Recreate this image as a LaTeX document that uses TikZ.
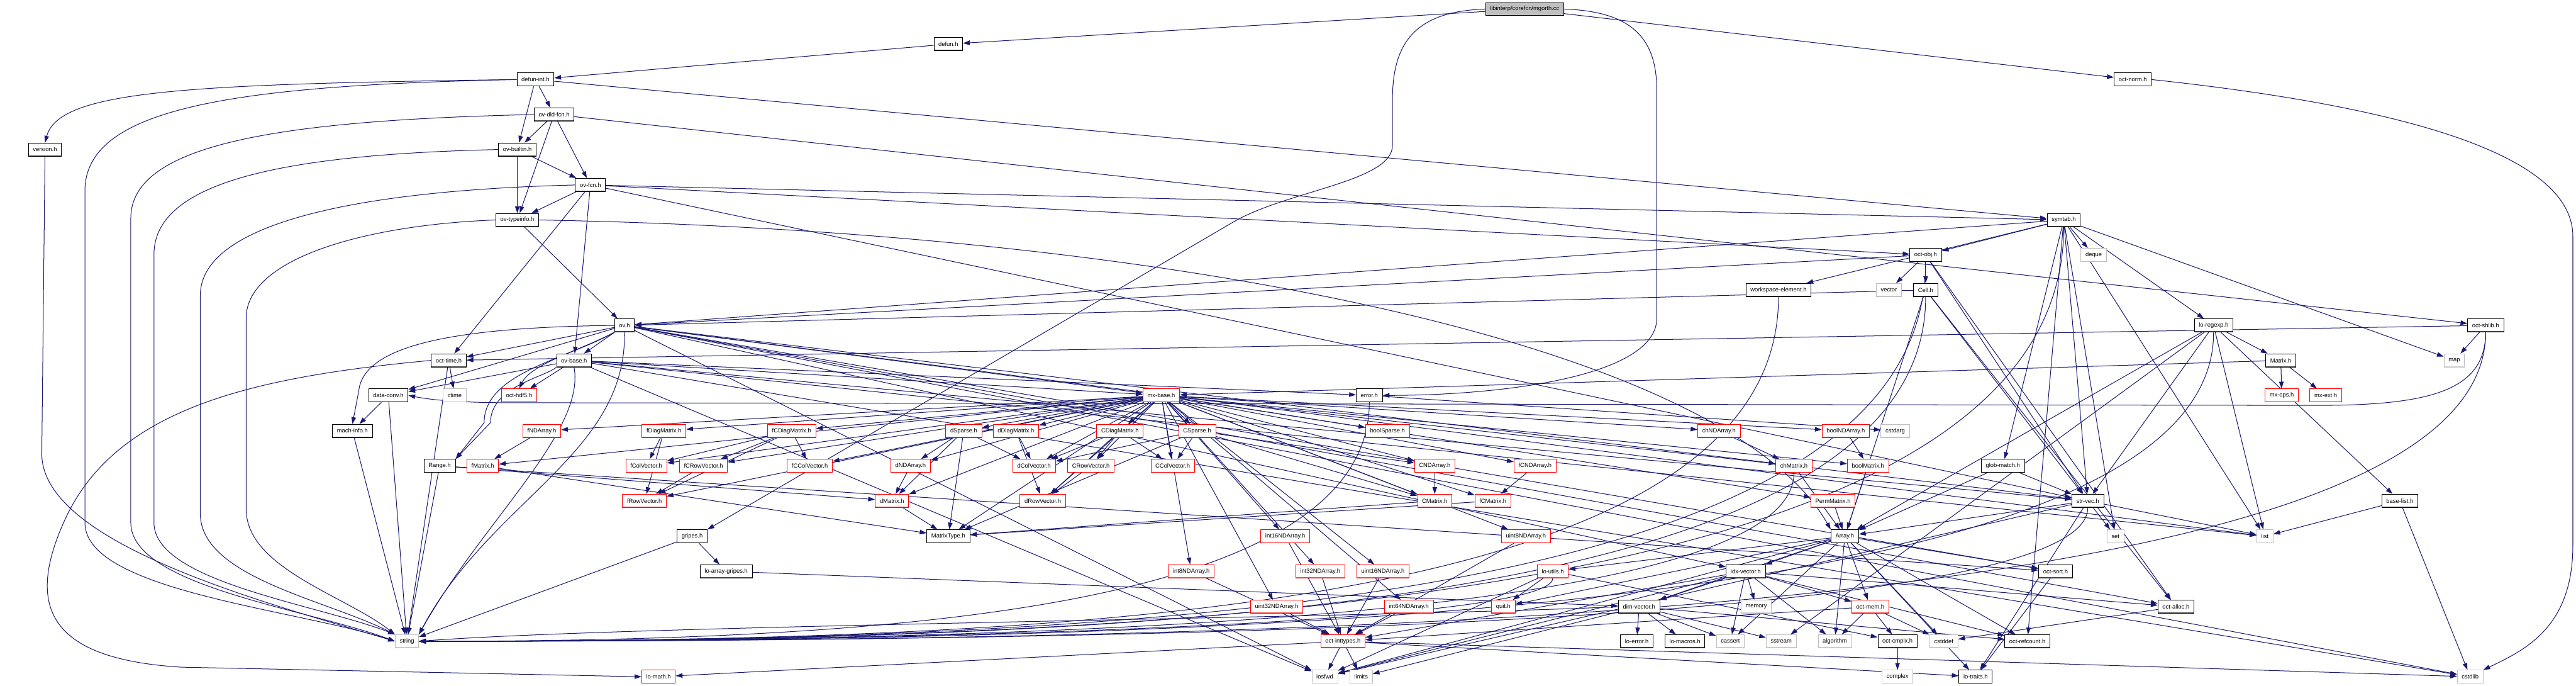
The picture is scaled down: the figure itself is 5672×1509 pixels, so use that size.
\documentclass[tikz,border=0pt]{standalone}
\usepackage{fontspec}
\setsansfont{Liberation Sans}
\usepackage{tikz}
\usetikzlibrary{arrows.meta}
\definecolor{depblue}{RGB}{25,25,112}
\definecolor{sysgray}{RGB}{191,191,191}
\definecolor{rootgray}{RGB}{191,191,191}
\pgfdeclarelayer{background}
\pgfdeclarelayer{edges}
\pgfsetlayers{background,edges,main}
\tikzset{
  hdr/.style={draw=#1, line width=1.2pt, fill=white, minimum height=29pt,
    inner xsep=10pt, inner ysep=0pt, font=\sffamily\fontsize{13}{15}\selectfont,
    path picture={\draw[#1!70!white, line width=3pt]
      (path picture bounding box.south west) -- (path picture bounding box.south east);}},
  filebox/.style={hdr=black},
  truncbox/.style={hdr=red},
  sysbox/.style={hdr=sysgray},
  dep/.style={draw=depblue, line width=1.4pt, -{Triangle[length=15pt,width=10pt]}},
}

\begin{document}
\begin{tikzpicture}[x=1pt, y=-1pt]
    \useasboundingbox (0,0) rectangle (5672,1509);
    \begin{pgfonlayer}{background}
        \fill[white] (0,0) rectangle (5672,1509);
    \end{pgfonlayer}

    \node[filebox, fill=rootgray] (mgorth) at (3357,20) {libinterp/corefcn/mgorth.cc};
    \node[filebox] (defun) at (2088,97) {defun.h};
    \node[filebox] (defunint) at (1179,175) {defun-int.h};
    \node[filebox] (octnorm) at (4696,175) {oct-norm.h};
    \node[filebox] (ovdldfcn) at (1220,252) {ov-dld-fcn.h};
    \node[filebox] (version) at (99,329) {version.h};
    \node[filebox] (ovbuiltin) at (1139,329) {ov-builtin.h};
    \node[filebox] (ovfcn) at (1300,407) {ov-fcn.h};
    \node[filebox] (ovtypeinfo) at (1139,484) {ov-typeinfo.h};
    \node[filebox] (symtab) at (4544,484) {symtab.h};
    \node[filebox] (octobj) at (4240,561) {oct-obj.h};
    \node[sysbox] (stddeque) at (4610,561) {deque};
    \node[filebox] (wselem) at (3916,638) {workspace-element.h};
    \node[sysbox] (stdvector) at (4159,638) {vector};
    \node[filebox] (cell) at (4240,638) {Cell.h};
    \node[filebox] (ov) at (1375,716) {ov.h};
    \node[filebox] (loregexp) at (4874,716) {lo-regexp.h};
    \node[filebox] (octshlib) at (5473,716) {oct-shlib.h};
    \node[filebox] (octtime) at (988,793) {oct-time.h};
    \node[filebox] (ovbase) at (1264,793) {ov-base.h};
    \node[filebox] (matrix) at (5022,793) {Matrix.h};
    \node[sysbox] (stdmap) at (5404,793) {map};
    \node[filebox] (datacnv) at (855,870) {data-conv.h};
    \node[sysbox] (stdctime) at (1001,870) {ctime};
    \node[truncbox] (octhdf) at (1143,870) {oct-hdf5.h};
    \node[truncbox] (mxbase) at (2557,870) {mx-base.h};
    \node[filebox] (error) at (3015,870) {error.h};
    \node[truncbox] (mxops) at (5024,870) {mx-ops.h};
    \node[truncbox] (mxext) at (5121,870) {mx-ext.h};

    \node[filebox] (machinfo) at (776,948) {mach-info.h};
    \node[truncbox] (fNDArray) at (1193,948) {fNDArray.h};
    \node[truncbox] (fDiag) at (1462,948) {fDiagMatrix.h};
    \node[truncbox] (fCDiag) at (1743,948) {fCDiagMatrix.h};
    \node[truncbox] (dSparse) at (2122,948) {dSparse.h};
    \node[truncbox] (dDiag) at (2237,948) {dDiagMatrix.h};
    \node[truncbox] (CDiag) at (2466,948) {CDiagMatrix.h};
    \node[truncbox] (CSparse) at (2636,948) {CSparse.h};
    \node[truncbox] (boolSparse) at (3055,948) {boolSparse.h};
    \node[truncbox] (chNDArray) at (3785,948) {chNDArray.h};
    \node[truncbox] (boolNDArray) at (4064,948) {boolNDArray.h};
    \node[sysbox] (stdcstdarg) at (4173,948) {cstdarg};

    \node[filebox] (range) at (968,1025) {Range.h};
    \node[truncbox] (fMatrix) at (1063,1025) {fMatrix.h};
    \node[truncbox] (fColVec) at (1423,1025) {fColVector.h};
    \node[truncbox] (fCRowVec) at (1549,1025) {fCRowVector.h};
    \node[truncbox] (fCColVec) at (1783,1025) {fCColVector.h};
    \node[truncbox] (dNDArray) at (2005,1025) {dNDArray.h};
    \node[truncbox] (dColVec) at (2277,1025) {dColVector.h};
    \node[truncbox] (CRowVec) at (2402,1025) {CRowVector.h};
    \node[truncbox] (CColVec) at (2582,1025) {CColVector.h};
    \node[truncbox] (CNDArray) at (3159,1025) {CNDArray.h};
    \node[truncbox] (fCNDArray) at (3380,1025) {fCNDArray.h};
    \node[truncbox] (chMatrix) at (3950,1025) {chMatrix.h};
    \node[truncbox] (boolMatrix) at (4113,1025) {boolMatrix.h};
    \node[filebox] (globmatch) at (4410,1025) {glob-match.h};

    \node[truncbox] (fRowVec) at (1419,1102) {fRowVector.h};
    \node[truncbox] (dMatrix) at (1964,1102) {dMatrix.h};
    \node[truncbox] (dRowVec) at (2296,1102) {dRowVector.h};
    \node[truncbox] (CMatrix) at (3159,1102) {CMatrix.h};
    \node[truncbox] (fCMatrix) at (3287,1102) {fCMatrix.h};
    \node[truncbox] (PermMatrix) at (4036,1102) {PermMatrix.h};
    \node[filebox] (strvec) at (4597,1102) {str-vec.h};
    \node[filebox] (baselist) at (5284,1102) {base-list.h};

    \node[filebox] (gripes) at (1524,1180) {gripes.h};
    \node[filebox] (mtype) at (2088,1180) {MatrixType.h};
    \node[truncbox] (int16) at (2830,1180) {int16NDArray.h};
    \node[truncbox] (uint8) at (3360,1180) {uint8NDArray.h};
    \node[filebox] (array) at (4062,1180) {Array.h};
    \node[sysbox] (stdset) at (4658,1180) {set};
    \node[sysbox] (stdlist) at (4987,1180) {list};

    \node[filebox] (lagripes) at (1599,1257) {lo-array-gripes.h};
    \node[truncbox] (int8) at (2623,1257) {int8NDArray.h};
    \node[truncbox] (int32) at (2907,1257) {int32NDArray.h};
    \node[truncbox] (uint16) at (3045,1257) {uint16NDArray.h};
    \node[truncbox] (loutils) at (3419,1257) {lo-utils.h};
    \node[filebox] (idxvec) at (3844,1257) {idx-vector.h};
    \node[filebox] (octsort) at (4526,1257) {oct-sort.h};

    \node[truncbox] (uint32) at (2811,1335) {uint32NDArray.h};
    \node[truncbox] (int64) at (3102,1335) {int64NDArray.h};
    \node[truncbox] (quit) at (3310,1335) {quit.h};
    \node[filebox] (dimvec) at (3609,1335) {dim-vector.h};
    \node[sysbox] (stdmemory) at (3867,1335) {memory};
    \node[truncbox] (octmem) at (4118,1335) {oct-mem.h};
    \node[filebox] (octalloc) at (4791,1335) {oct-alloc.h};

    \node[sysbox] (stdstring) at (896,1411) {string};
    \node[truncbox] (octint) at (2957,1411) {oct-inttypes.h};
    \node[filebox] (loerror) at (3604,1411) {lo-error.h};
    \node[filebox] (lomacros) at (3710,1411) {lo-macros.h};
    \node[sysbox] (stdcassert) at (3810,1411) {cassert};
    \node[sysbox] (stdsstream) at (3922,1411) {sstream};
    \node[sysbox] (stdalgorithm) at (4040,1411) {algorithm};
    \node[filebox] (octcmplx) at (4178,1411) {oct-cmplx.h};
    \node[sysbox] (stdcstddef) at (4280,1411) {cstddef};
    \node[filebox] (octrefcount) at (4464,1411) {oct-refcount.h};

    \node[truncbox] (lomath) at (1450,1489) {lo-math.h};
    \node[sysbox] (stdiosfwd) at (2917,1489) {iosfwd};
    \node[sysbox] (stdlimits) at (2997,1489) {limits};
    \node[sysbox] (stdcomplex) at (4178,1489) {complex};
    \node[filebox] (lotraits) at (4350,1489) {lo-traits.h};
    \node[sysbox] (stdcstdlib) at (5439,1489) {cstdlib};

    \begin{pgfonlayer}{edges}
    \draw[dep] (mgorth) -- (defun);
    \draw[dep] (mgorth) -- (octnorm);
    \draw[dep] (mgorth.east) .. controls (3600,25) and (3648,90) .. (3648,200) -- (3648,700) .. controls (3648,830) and (3300,870) .. (error.east);
    \draw[dep] (mgorth.west) .. controls (3110,25) and (3066,100) .. (3066,220) -- (3066,320) .. controls (3066,400) and (2830,420) .. (2713,490) -- (gripes.north east);
    \draw[dep] (defun) -- (defunint);
    \foreach \tgt in {ovbuiltin,ovdldfcn,symtab} \draw[dep] (defunint) -- (\tgt);
    \draw[dep] (defunint.west) .. controls (400,185) and (130,200) .. (version.north);
    \draw[dep] (defunint.west) .. controls (500,188) and (187,240) .. (187,420) -- (187,1150) .. controls (187,1300) and (650,1340) .. (stdstring.west);
    \draw[dep] (version.south) -- (92,1000) .. controls (95,1200) and (600,1330) .. (stdstring.west);
    \draw[dep] (ovdldfcn.west) .. controls (600,265) and (288,320) .. (288,480) -- (288,1150) .. controls (288,1290) and (680,1340) .. (stdstring.west);
    \draw[dep] (ovbuiltin.west) .. controls (620,340) and (339,400) .. (339,560) -- (339,1150) .. controls (339,1280) and (700,1330) .. (stdstring.north west);
    \draw[dep] (ovfcn.west) .. controls (750,420) and (441,500) .. (441,650) -- (441,1130) .. controls (441,1270) and (720,1320) .. (stdstring.north west);
    \draw[dep] (ovtypeinfo.west) .. controls (800,495) and (542,570) .. (542,700) -- (542,1120) .. controls (542,1250) and (760,1310) .. (stdstring.north west);
    \foreach \tgt in {octshlib,ovbuiltin,ovfcn,ovtypeinfo} \draw[dep] (ovdldfcn) -- (\tgt);
    \foreach \tgt in {ovfcn,ovtypeinfo} \draw[dep] (ovbuiltin) -- (\tgt);
    \foreach \tgt in {octtime,ovbase,ovtypeinfo,octobj,strvec,symtab} \draw[dep] (ovfcn) -- (\tgt);
    \draw[dep] (ovtypeinfo) -- (ov);
    \draw[dep] (ovtypeinfo.east) .. controls (2600,510) and (3800,760) .. (array.north west);
    \draw[dep] (octnorm.east) .. controls (5250,230) and (5665,330) .. (5665,520) -- (5665,1200) .. controls (5665,1380) and (5560,1430) .. (stdcstdlib.north east);

    \foreach \tgt in {stddeque,loregexp,globmatch,octobj,wselem,ov,strvec,stdlist,stdmap,stdset,octrefcount} \draw[dep] (symtab) -- (\tgt);
    \foreach \tgt in {stdvector,cell,ov,strvec,octalloc} \draw[dep] (octobj) -- (\tgt);
    \foreach \tgt in {array,octalloc,strvec,ov} \draw[dep] (cell) -- (\tgt);
    \foreach \tgt in {datacnv,idxvec,mxbase,octalloc,octtime,strvec,octsort,ovbase,stdcstdlib,stdiosfwd,stdlist} \draw[dep] (ov) -- (\tgt);
    \draw[dep] (ov.south west) .. controls (1250,790) and (1066,820) .. (1066,930) -- (range.north east);
    \draw[dep] (ov.west) .. controls (1000,720) and (800,760) .. (790,860) -- (machinfo.north);
    \draw[dep] (ov.south west) .. controls (1280,770) and (1170,800) .. (octhdf.north);
    \draw[dep] (ov.south) .. controls (1380,1000) and (1080,1100) .. (stdstring.north east);
    \foreach \tgt in {datacnv,mxbase,strvec,error,octhdf,stdiosfwd,stdlist,stdcstdlib} \draw[dep] (ovbase) -- (\tgt);
    \draw[dep] (ovbase.south west) .. controls (1200,830) and (1080,850) .. (1080,930) -- (range.north east);
    \draw[dep] (ovbase.south) .. controls (1290,950) and (1060,1150) .. (stdstring.north east);
    \foreach \tgt in {stdctime,stdstring} \draw[dep] (octtime) -- (\tgt);
    \draw[dep] (octtime.west) .. controls (550,830) and (250,900) .. (140,1150) .. controls (60,1330) and (100,1450) .. (400,1468) -- (lomath.west);
    \foreach \tgt in {machinfo,stdstring} \draw[dep] (datacnv) -- (\tgt);
    \draw[dep] (machinfo) -- (stdstring);
    \foreach \tgt in {stdstring,dMatrix,octsort} \draw[dep] (range) -- (\tgt);

    \draw[dep] (fNDArray) -- (fMatrix);
    \draw[dep] (fMatrix) -- (mtype);
    \foreach \tgt in {fColVec,fRowVec} \draw[dep] (fDiag) -- (\tgt);
    \foreach \tgt in {fCColVec,fCRowVec,fColVec,fRowVec} \draw[dep] (fCDiag) -- (\tgt);
    \draw[dep] (fCRowVec) -- (fRowVec);
    \foreach \tgt in {dMatrix,dNDArray,dColVec,mtype} \draw[dep] (dSparse) -- (\tgt);
    \foreach \tgt in {dColVec,dRowVec} \draw[dep] (dDiag) -- (\tgt);
    \foreach \tgt in {CColVec,CRowVec,dColVec,dRowVec} \draw[dep] (CDiag) -- (\tgt);
    \foreach \tgt in {CMatrix,CNDArray,CColVec,mtype,dColVec} \draw[dep] (CSparse) -- (\tgt);
    \draw[dep] (dNDArray) -- (dMatrix);
    \draw[dep] (CRowVec) -- (dRowVec);
    \draw[dep] (dMatrix) -- (mtype);
    \draw[dep] (CNDArray) -- (CMatrix);
    \draw[dep] (fCNDArray) -- (fCMatrix);
    \draw[dep] (CMatrix) -- (mtype);
    \draw[dep] (fCMatrix) -- (mtype);
    \draw[dep] (chNDArray) -- (chMatrix);
    \draw[dep] (chMatrix) -- (array);
    \draw[dep] (boolNDArray) -- (boolMatrix);
    \draw[dep] (boolMatrix) -- (array);
    \draw[dep] (PermMatrix) -- (array);
    \foreach \tgt in {mtype,dColVec,dRowVec,dMatrix,dDiag,CColVec,CRowVec,CMatrix,CDiag,fColVec,fRowVec,fMatrix,fDiag,fCColVec,fCRowVec,fCMatrix,fCDiag,chMatrix,boolMatrix,dNDArray,fNDArray,CNDArray,fCNDArray,boolNDArray,chNDArray,int8,int16,int32,int64,uint8,uint16,uint32,boolSparse,dSparse,CSparse,PermMatrix} \draw[dep] (mxbase) -- (\tgt);
    \foreach \tgt in {mxbase,mxops,mxext} \draw[dep] (matrix) -- (\tgt);

    \foreach \tgt in {stdlist,stdsstream,array,matrix,baselist,strvec} \draw[dep] (loregexp) -- (\tgt);
    \foreach \tgt in {stdmap,octtime} \draw[dep] (octshlib) -- (\tgt);
    \draw[dep] (octshlib.south) .. controls (5473,860) and (5350,892) .. (5100,892) -- (1100,886) .. controls (990,885) and (940,878) .. (datacnv.east);
    \foreach \tgt in {array,strvec} \draw[dep] (globmatch) -- (\tgt);
    \foreach \tgt in {stdiosfwd,stdlist,stdset,array,lotraits} \draw[dep] (strvec) -- (\tgt);
    \foreach \tgt in {stdlist,stdcstdlib} \draw[dep] (baselist) -- (\tgt);

    \foreach \src in {int8,int16,int32,int64,uint8,uint16,uint32} \draw[dep] (\src) -- (octint);
    \foreach \tgt in {stdiosfwd,stdlimits,lomath,lotraits,stdcstdlib} \draw[dep] (octint) -- (\tgt);
    \foreach \tgt in {stdcassert,stdcstddef,stdalgorithm,stdiosfwd,dimvec,idxvec,lotraits,loutils,octsort,quit,octmem,octrefcount} \draw[dep] (array) -- (\tgt);
    \foreach \tgt in {stdcassert,stdalgorithm,stdiosfwd,stdmemory,dimvec,octint,octalloc,octmem,octrefcount} \draw[dep] (idxvec) -- (\tgt);
    \foreach \tgt in {stdcassert,stdlimits,stdsstream,loerror,lomacros,octrefcount} \draw[dep] (dimvec) -- (\tgt);
    \foreach \tgt in {quit,octcmplx,stdiosfwd} \draw[dep] (loutils) -- (\tgt);
    \foreach \tgt in {stdcstddef,stdalgorithm,octcmplx,octint} \draw[dep] (octmem) -- (\tgt);
    \draw[dep] (octcmplx) -- (stdcomplex);
    \draw[dep] (octsort) -- (lotraits);
    \draw[dep] (octalloc) -- (stdcstddef);
    \draw[dep] (gripes) -- (lagripes);
    \draw[dep] (gripes) -- (stdstring);
    \draw[dep] (lagripes) -- (dimvec);
    \draw[dep] (error) -- (stdcstdarg);
    \foreach \src/\dn/\ex in {symtab/830/1800,octobj/760/1670,wselem/700/1500,cell/700/1670,loregexp/620/2000,octshlib/620/2300,strvec/260/1850,chMatrix/330/1500,error/470/1060,loutils/110/1260}
        \draw[dep] (\src) .. controls +(0,\dn) and +(\ex,0) .. (stdstring);
    \draw[dep] (dimvec.west) .. controls (3000,1360) and (1400,1375) .. (stdstring.east);
    \end{pgfonlayer}
\end{tikzpicture}
\end{document}
